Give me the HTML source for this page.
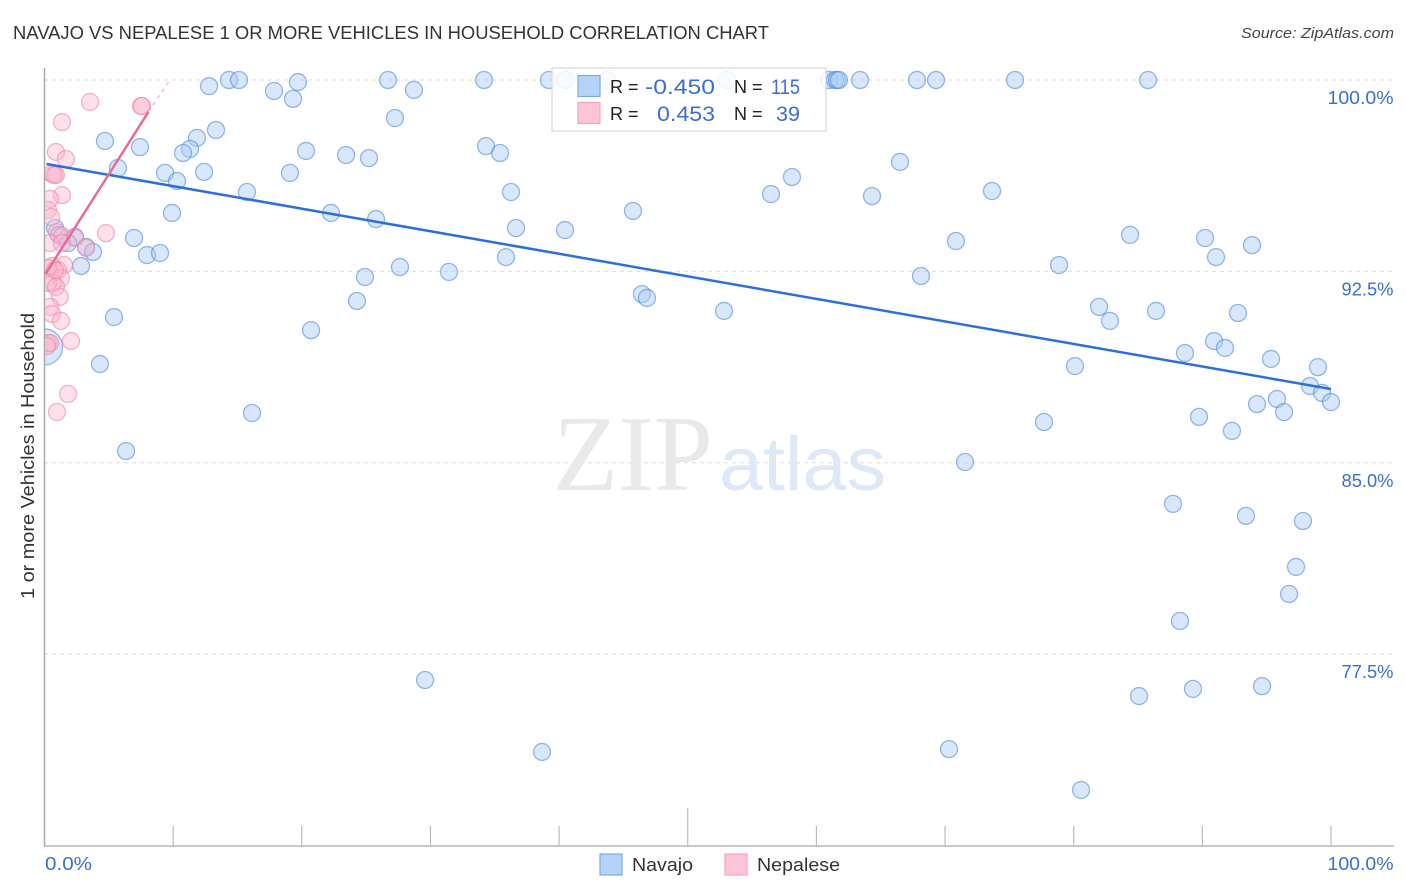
<!DOCTYPE html>
<html lang="en">
<head>
<meta charset="utf-8">
<title>Navajo vs Nepalese 1 or more Vehicles in Household Correlation Chart</title>
<style>
html,body{margin:0;padding:0;background:#fff;width:1406px;height:892px;overflow:hidden}
svg{display:block;font-family:"Liberation Sans",sans-serif}
</style>
</head>
<body>
<svg id="chart" width="1406" height="892" viewBox="0 0 1406 892" xmlns="http://www.w3.org/2000/svg">
  <defs>
    <clipPath id="plot-clip"><rect x="45" y="60" width="1361" height="786"></rect></clipPath>
  </defs>
  <rect x="0" y="0" width="1406" height="892" fill="#fff"></rect>
  <text x="13" y="39" font-size="18" fill="#333" textLength="756" lengthAdjust="spacingAndGlyphs">NAVAJO VS NEPALESE 1 OR MORE VEHICLES IN HOUSEHOLD CORRELATION CHART</text>
  <text x="1394" y="38" font-size="15" font-style="italic" fill="#444" text-anchor="end" textLength="153" lengthAdjust="spacingAndGlyphs">Source: ZipAtlas.com</text>
  <text transform="translate(34 456) rotate(-90)" font-size="18" fill="#333" text-anchor="middle" textLength="286" lengthAdjust="spacingAndGlyphs">1 or more Vehicles in Household</text>
  <g id="grid"></g>
  <g>
    <text x="553" y="490" font-family="'Liberation Serif',serif" font-size="108" fill="#e9e9e9" textLength="160" lengthAdjust="spacingAndGlyphs">ZIP</text>
    <text x="719" y="490" font-size="76" fill="#dde9f8" textLength="167" lengthAdjust="spacingAndGlyphs">atlas</text>
  </g>
  <g id="axes"></g>
  <g id="points" clip-path="url(#plot-clip)"></g>
  <g id="trends"></g>
  <g>
    <rect x="552" y="68" width="274" height="63" fill="#fff" fill-opacity="0.85" stroke="#d8d8d8" stroke-width="1.2"></rect>
    <rect x="578" y="75.500" width="22" height="21" fill="#b5d2f7" stroke="#7ea9e6" stroke-width="1.2"></rect>
    <rect x="578" y="102.500" width="22" height="21" fill="#fcc5d6" stroke="#f2a6bd" stroke-width="1.2"></rect>
    <text x="610" y="93" font-size="18" fill="#222">R =</text>
    <text x="645" y="94" font-size="21" fill="#3a6fd0" textLength="70" lengthAdjust="spacingAndGlyphs">-0.450</text>
    <text x="734" y="93" font-size="18" fill="#222">N =</text>
    <text x="771" y="94" font-size="21" fill="#3a6fd0" textLength="29" lengthAdjust="spacingAndGlyphs">115</text>
    <text x="610" y="120" font-size="18" fill="#222">R =</text>
    <text x="657" y="121" font-size="21" fill="#3a6fd0" textLength="58" lengthAdjust="spacingAndGlyphs">0.453</text>
    <text x="734" y="120" font-size="18" fill="#222">N =</text>
    <text x="776" y="121" font-size="21" fill="#3a6fd0" textLength="24" lengthAdjust="spacingAndGlyphs">39</text>
  </g>
  <g>
    <rect x="600" y="854" width="22" height="21" fill="#b5d2f7" stroke="#7ea9e6" stroke-width="1.2"></rect>
    <text x="632" y="871" font-size="18.500" fill="#333" textLength="61" lengthAdjust="spacingAndGlyphs">Navajo</text>
    <rect x="725" y="854" width="22" height="21" fill="#fcc5d6" stroke="#f2a6bd" stroke-width="1.2"></rect>
    <text x="757" y="871" font-size="18.500" fill="#333" textLength="83" lengthAdjust="spacingAndGlyphs">Nepalese</text>
  </g>
</svg>
<script>
const yTicks = [100, 92.5, 85, 77.5];
const yTickLabels = ['100.0%', '92.5%', '85.0%', '77.5%'];
const xTicks = [0, 10, 20, 30, 40, 50, 60, 70, 80, 90, 100];
const xEndTicks = [0, 100];
const xEndLabels = ['0.0%', '100.0%'];

const navajoX = [14.34,15.12,19.70,26.70,34.16,39.21,40.54,43.72,53.05,60.98,61.45,61.60,61.76,63.39,67.82,69.30,75.44,85.78,
12.79,17.84,19.32,28.72,27.24,13.33,11.85,11.31,10.77,4.70,7.42,20.33,23.44,25.22,34.32,35.41,5.71,9.37,10.30,12.40,15.74,19.08,
36.26,66.50,58.10,56.47,64.32,73.65,9.91,22.27,25.77,45.74,36.65,40.46,70.85,84.38,90.21,93.86,91.06,0.82,1.13,2.37,1.83,3.23,3.77,
6.96,7.97,8.98,2.84,35.87,27.63,31.44,24.91,68.13,78.86,24.29,46.44,46.83,52.82,5.40,20.72,81.97,82.82,86.40,92.77,88.65,90.91,91.76,
95.34,80.10,98.99,4.31,98.37,99.30,100,95.80,94.25,96.35,89.74,92.30,77.69,16.13,6.34,71.55,87.72,93.39,97.82,97.28,96.74,88.26,
29.58,85.08,89.27,94.64,38.67,70.31,80.57];
const navajoY = [100,100,99.92,100,100,100,100,100,100,100,100,100,100,100,100,100,100,100,
99.76,99.57,99.26,99.61,98.51,98.04,97.73,97.30,97.14,97.61,97.37,97.22,97.06,96.94,97.41,97.14,96.55,96.36,96.04,96.40,95.61,96.36,
95.61,96.79,96.20,95.53,95.45,95.65,94.79,94.79,94.55,94.87,94.20,94.12,93.69,93.93,93.81,93.53,93.06,94.20,93.93,93.85,93.61,93.46,93.26,
93.81,93.14,93.22,92.71,93.06,92.67,92.48,92.28,92.32,92.75,91.34,91.61,91.46,90.95,90.71,90.20,91.11,90.56,90.95,90.87,89.30,89.77,89.50,
89.07,88.79,88.75,88.87,88.01,87.74,87.38,87.50,87.30,86.99,86.80,86.25,86.60,86.95,85.46,85.03,83.39,82.92,82.72,80.92,79.86,78.80,
76.49,75.86,76.14,76.25,73.67,73.78,72.18];
const navajoLargeX = [0];
const navajoLargeY = [89.54];

const nepaleseX = [3.54,7.50,7.58,1.36,0.89,1.67,0.58,0.89,0.74,1.36,0.43,0.27,0.51,4.78,0.97,1.36,2.37,0.43,1.36,3.23,
1.52,0.58,1.05,0.27,1.28,0.66,0.27,0.89,1.20,0.43,0.58,1.28,2.06,0.27,0.43,0.19,1.83,0.97,0.82];
const nepaleseY = [99.14,98.98,98.98,98.35,97.18,96.90,96.32,96.28,96.28,95.49,95.34,94.91,94.63,94.00,94.04,93.89,93.81,93.61,93.61,93.42,
92.75,92.71,92.55,92.63,92.24,92.05,92.05,91.89,91.50,91.11,90.83,90.56,89.77,89.69,89.69,89.58,87.70,86.99,92.55];

const navajoTrendX = [0, 100];
const navajoTrendY = [96.71, 87.89];
const nepaleseTrendX = [0, 8.08];
const nepaleseTrendY = [92.40, 98.75];
const nepaleseDashX = [8.08, 9.75];
const nepaleseDashY = [98.75, 100];

const NS = 'http://www.w3.org/2000/svg';
function sx(v) { return 44.5 + v * 12.865; }
function sy(v) { return 80 + (100 - v) * 25.52; }
function make(tag, attrs, parent) {
  const el = document.createElementNS(NS, tag);
  for (const k in attrs) el.setAttribute(k, attrs[k]);
  parent.appendChild(el);
  return el;
}

const grid = document.getElementById('grid');
const axes = document.getElementById('axes');
const points = document.getElementById('points');
const trends = document.getElementById('trends');

yTicks.forEach(function (t, i) {
  const line = make('line', {x1: 44, x2: 1394, y1: sy(t), y2: sy(t), stroke: '#dcdcdc', 'stroke-width': 1, 'stroke-dasharray': '4 4'}, grid);
  
  
  const label = make('text', {x: 1393.500, y: sy(t) + 24, 'font-size': 18.500, fill: '#3a6fd0', 'text-anchor': 'end', textLength: yTickLabels[i].length === 6 ? 66 : 52, lengthAdjust: 'spacingAndGlyphs'}, axes);
  label.textContent = yTickLabels[i];
  
  
});

const yAxis = make('line', {x1: 44.5, x2: 44.5, y1: 68, y2: 846, stroke: '#aaa', 'stroke-width': 1.5}, axes);


const xAxis = make('line', {x1: 44, x2: 1394, y1: 846, y2: 846, stroke: '#b5b5b5', 'stroke-width': 1.5}, axes);



xTicks.forEach(function (t) {
  if (t === 0) return;
  const tick = make('line', {x1: sx(t), x2: sx(t), y1: t === 50 ? 808 : 826, y2: 846, stroke: '#bbb', 'stroke-width': 1.2}, axes);
  
  
});

xEndTicks.forEach(function (t, i) {
  const label = make('text', {x: t === 0 ? 45 : 1393.500, y: 870, 'font-size': 18.500, fill: '#3a6fd0', 'text-anchor': t === 0 ? 'start' : 'end', textLength: t === 0 ? 47 : 66, lengthAdjust: 'spacingAndGlyphs'}, axes);
  label.textContent = xEndLabels[i];
  
  
});

const navajoFill = {fill: '#a8cbf5', 'fill-opacity': 0.45, stroke: '#4f8be0', 'stroke-opacity': 0.6, 'stroke-width': 1.3};
const nepaleseFill = {fill: '#fab4ca', 'fill-opacity': 0.42, stroke: '#ee85a6', 'stroke-opacity': 0.6, 'stroke-width': 1.3};

navajoLargeX.forEach(function (v, i) {
  const dot = make('circle', Object.assign({cx: sx(v), cy: sy(navajoLargeY[i]), r: 18}, navajoFill), points);
  
  
});
navajoX.forEach(function (v, i) {
  const dot = make('circle', Object.assign({cx: sx(v), cy: sy(navajoY[i]), r: 8.500}, navajoFill), points);
  
  
});
nepaleseX.forEach(function (v, i) {
  const dot = make('circle', Object.assign({cx: sx(v), cy: sy(nepaleseY[i]), r: 8.500}, nepaleseFill), points);
  
  
});

const navajoLine = make('line', {x1: sx(navajoTrendX[0]) + 2, y1: sy(navajoTrendY[0]), x2: sx(navajoTrendX[1]), y2: sy(navajoTrendY[1]), stroke: '#2a6fdb', 'stroke-width': 2.500}, trends);


const nepaleseLine = make('line', {x1: sx(nepaleseTrendX[0]) + 1, y1: sy(nepaleseTrendY[0]), x2: sx(nepaleseTrendX[1]), y2: sy(nepaleseTrendY[1]), stroke: '#ea6a96', 'stroke-width': 2.500}, trends);


const nepaleseDash = make('line', {x1: sx(nepaleseDashX[0]), y1: sy(nepaleseDashY[0]), x2: sx(nepaleseDashX[1]), y2: sy(nepaleseDashY[1]), stroke: '#f0a0b8', 'stroke-width': 1, 'stroke-dasharray': '4 4'}, trends);


</script>
</body>
</html>
